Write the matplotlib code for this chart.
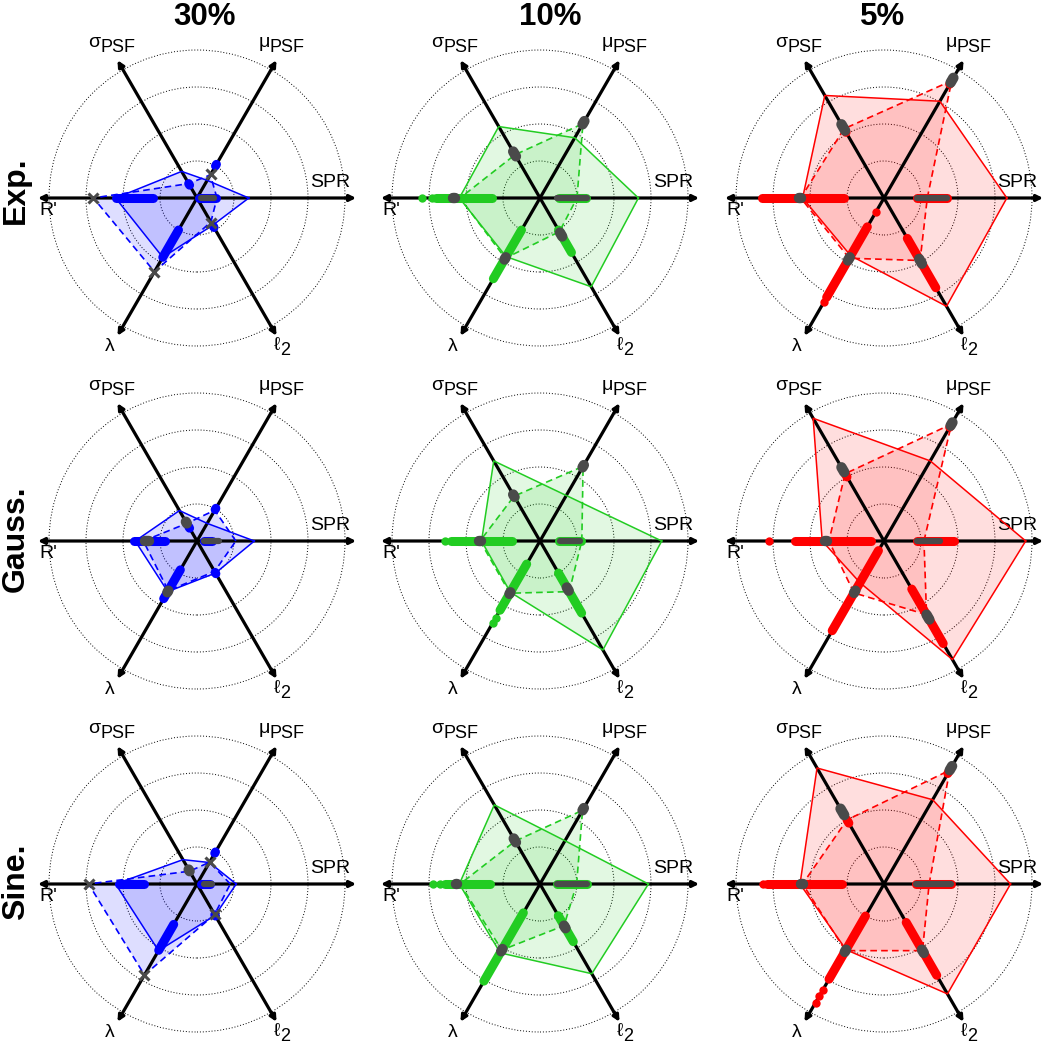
import numpy as np
import matplotlib.pyplot as plt
from matplotlib.patches import Circle, FancyArrowPatch
from matplotlib.transforms import offset_copy

plt.rcParams['font.family'] = ['Liberation Sans', 'DejaVu Sans']

noise_levels = ['30%', '10%', '5%']
psf_kinds = ['Exp.', 'Gauss.', 'Sine.']
axis_names = ['SPR', 'μ', 'σ', "R'", 'λ', 'ℓ']
axis_subs = ['', 'PSF', 'PSF', '', '', '2']
axis_angles = [0, 60, 120, 180, 240, 300]
level_colors = ['#0000ff', '#22cc22', '#ff0000']

# order of values on each polygon: SPR, muPSF, sigmaPSF, R', lambda, l2
exp_solid = [[1.40, 0.55, 0.83, 2.20, 1.85, 0.85],
             [2.66, 1.88, 2.23, 2.18, 1.83, 2.77],
             [3.32, 3.02, 3.20, 2.20, 1.80, 3.38]]
exp_dashed = [[0.54, 0.72, 0.45, 2.80, 2.30, 0.75],
              [1.00, 2.32, 1.35, 2.16, 1.88, 1.05],
              [1.17, 3.66, 2.16, 2.25, 1.88, 1.95]]
gauss_solid = [[1.55, 0.55, 0.95, 1.67, 1.58, 1.00],
               [3.29, 1.42, 2.50, 1.58, 1.60, 3.40],
               [3.83, 2.50, 3.83, 1.67, 1.30, 3.70]]
gauss_dashed = [[1.05, 0.96, 0.55, 1.45, 1.55, 0.95],
                [1.13, 2.33, 1.40, 1.62, 1.63, 1.58],
                [1.08, 3.65, 2.10, 1.49, 1.62, 2.30]]
sine_solid = [[1.06, 0.67, 0.76, 2.20, 2.08, 0.98],
              [2.93, 1.35, 2.47, 2.18, 2.15, 2.80],
              [3.42, 2.63, 3.62, 2.27, 2.05, 3.43]]
sine_dashed = [[0.90, 0.68, 0.40, 2.93, 2.84, 0.95],
               [0.99, 2.30, 1.34, 2.16, 2.06, 1.30],
               [1.22, 3.55, 2.00, 2.20, 2.08, 2.08]]

# spread (low, high) of the estimates along every axis
exp_spread = [[(0.05, 0.50), (1.00, 1.05), (0.40, 0.45), (1.20, 2.20), (1.00, 1.85), (0.88, 0.92)],
              [(0.50, 1.25), (2.30, 2.35), (1.35, 1.40), (1.30, 2.80), (1.00, 2.52), (1.00, 1.70)],
              [(0.90, 1.70), (3.55, 3.65), (2.05, 2.15), (1.08, 3.29), (0.90, 3.10), (1.26, 2.80)]]
gauss_spread = [[(0.20, 0.40), (0.98, 1.02), (0.40, 0.45), (0.86, 1.71), (0.90, 1.80), (0.98, 1.02)],
                [(0.50, 1.10), (2.30, 2.35), (1.35, 1.45), (0.77, 2.40), (0.72, 2.16), (1.00, 2.25)],
                [(0.90, 1.90), (3.55, 3.65), (2.00, 2.10), (0.36, 2.40), (0.30, 2.80), (1.50, 3.20)]]
sine_spread = [[(0.10, 0.35), (0.96, 1.00), (0.40, 0.45), (1.44, 2.12), (1.26, 2.07), (0.96, 1.00)],
               [(0.45, 1.26), (2.30, 2.35), (1.30, 1.40), (1.35, 2.57), (0.90, 3.03), (0.99, 1.80)],
               [(0.86, 1.80), (3.45, 3.55), (1.90, 2.00), (1.13, 3.15), (1.00, 2.97), (1.20, 2.85)]]

# isolated estimates (axis index, value)
exp_extra = [[], [(3, 3.20), (3, 2.93)], [(4, 0.45), (4, 3.24)]]
gauss_extra = [[], [(3, 2.57), (4, 2.40), (4, 2.56)], [(3, 3.10)]]
sine_extra = [[], [(3, 2.90), (3, 2.70)], [(3, 3.26), (4, 3.30), (4, 3.50), (4, 3.70)]]

# reference values (grey)
exp_truth = [[(0.10, 0.45), (0.75, 0.75), (0.42, 0.42), (2.80, 2.80), (2.30, 2.30), (0.78, 0.78)],
             [(0.45, 1.26), (2.30, 2.40), (1.30, 1.45), (2.30, 2.35), (1.85, 1.92), (1.08, 1.20)],
             [(0.90, 1.71), (3.60, 3.75), (2.10, 2.30), (2.25, 2.30), (1.85, 1.95), (1.90, 2.05)]]
gauss_truth = [[(0.20, 0.60), (0.96, 0.96), (0.55, 0.60), (1.30, 1.40), (1.55, 1.60), (0.95, 0.95)],
               [(0.54, 1.08), (2.30, 2.37), (1.38, 1.45), (1.60, 1.65), (1.60, 1.65), (1.45, 1.55)],
               [(0.90, 1.50), (3.60, 3.70), (2.15, 2.30), (1.55, 1.60), (1.55, 1.62), (2.30, 2.45)]]
sine_truth = [[(0.20, 0.40), (0.68, 0.68), (0.40, 0.45), (2.93, 2.93), (2.84, 2.84), (0.95, 0.95)],
              [(0.45, 1.26), (2.30, 2.37), (1.30, 1.42), (2.25, 2.28), (2.03, 2.10), (1.30, 1.38)],
              [(0.86, 1.80), (3.55, 3.68), (2.15, 2.35), (2.20, 2.25), (2.05, 2.12), (2.05, 2.15)]]

rows = [(exp_solid, exp_dashed, exp_spread, exp_extra, exp_truth),
        (gauss_solid, gauss_dashed, gauss_spread, gauss_extra, gauss_truth),
        (sine_solid, sine_dashed, sine_spread, sine_extra, sine_truth)]

W, H = 1050, 1049
col_x = [197, 540, 884]
row_y = [198, 541, 884]
unit = 37.0
half = 171.5
label_pos = [(3.6, 0.43), (2.28, 4.15), (-2.3, 4.15), (-4.02, -0.33), (-2.35, -4.02), (2.3, -4.02)]
grey = '#4a4a4a'

fig = plt.figure(figsize=(W / 100, H / 100), dpi=100)
renderer = fig.canvas.get_renderer()


def xy(r, k):
    a = np.deg2rad(axis_angles[k])
    return r * np.cos(a), r * np.sin(a)


def closed(vals):
    pts = [xy(r, k) for k, r in enumerate(vals)]
    pts.append(pts[0])
    return np.array(pts)


def axis_label(ax, x, y, name, sub):
    t1 = ax.text(x, y, name, fontsize=14, ha='left', va='baseline')
    w1 = t1.get_window_extent(renderer).width
    if not sub:
        t1.set_ha('center')
        t1.set_va('center')
        return
    t2 = ax.text(x, y, sub, fontsize=13, ha='left', va='baseline')
    w2 = t2.get_window_extent(renderer).width
    tot = w1 + w2
    t1.set_transform(offset_copy(ax.transData, fig=fig, x=-tot / 2, y=-3, units='dots'))
    t2.set_transform(offset_copy(ax.transData, fig=fig, x=w1 - tot / 2, y=-8, units='dots'))


def draw_panel(ax, solid, dashed, spread, extra, truth, color, crosses):
    for rad in [1, 2, 3, 4]:
        ax.add_patch(Circle((0, 0), rad, fill=False, ec='k', lw=0.7,
                            ls=(0, (1, 2)), zorder=1))
    ps = closed(solid)
    pd_ = closed(dashed)
    ax.fill(ps[:, 0], ps[:, 1], color=color, alpha=0.13, lw=0, zorder=2)
    ax.fill(pd_[:, 0], pd_[:, 1], color=color, alpha=0.13, lw=0, zorder=2)
    for k in range(3):
        x0, y0 = xy(-4.3, k)
        x1, y1 = xy(4.3, k)
        ax.add_patch(FancyArrowPatch((x0, y0), (x1, y1), arrowstyle='<|-|>',
                                     mutation_scale=9, lw=2.3, color='k',
                                     shrinkA=0, shrinkB=0, zorder=3))
    ax.plot(ps[:, 0], ps[:, 1], color=color, lw=1.1, zorder=4)
    ax.plot(pd_[:, 0], pd_[:, 1], color=color, lw=1.2, ls=(0, (4, 2.5)), zorder=4)
    for k, (lo, hi) in enumerate(spread):
        xa, ya = xy(lo, k)
        xb, yb = xy(hi, k)
        ax.plot([xa, xb], [ya, yb], color=color, lw=6.5, solid_capstyle='round', zorder=5)
    for k, r in extra:
        x, y = xy(r, k)
        ax.plot(x, y, 'o', color=color, ms=6, mew=0, zorder=5)
    for k, (lo, hi) in enumerate(truth):
        xa, ya = xy(lo, k)
        xb, yb = xy(hi, k)
        if crosses and lo == hi and k != 2:
            ax.plot(xa, ya, 'x', color=grey, ms=7, mew=2.2, zorder=6)
        else:
            w = 4.5 if k == 0 else 7.5
            ax.plot([xa, xb], [ya, yb], color=grey, lw=w, solid_capstyle='round', zorder=6)
    for k, (lx, ly) in enumerate(label_pos):
        axis_label(ax, lx, ly, axis_names[k], axis_subs[k])


for i, (solid, dashed, spread, extra, truth) in enumerate(rows):
    for j in range(3):
        ax = fig.add_axes([(col_x[j] - half) / W, 1 - (row_y[i] + half) / H,
                           2 * half / W, 2 * half / H])
        ax.set_xlim(-half / unit, half / unit)
        ax.set_ylim(-half / unit, half / unit)
        ax.set_aspect('equal')
        ax.axis('off')
        draw_panel(ax, solid[j], dashed[j], spread[j], extra[j], truth[j],
                   level_colors[j], crosses=(j == 0 and i != 1))

title_x = [205, 550, 883]
for j, t in enumerate(noise_levels):
    fig.text(title_x[j] / W, 1 - 17 / H, t, fontsize=22.5, fontweight='bold',
             ha='center', va='center')
label_y = [190, 539, 882]
for i, t in enumerate(psf_kinds):
    fig.text(16 / W, 1 - label_y[i] / H, t, fontsize=23, fontweight='bold',
             rotation=90, ha='center', va='center')

fig.savefig('out.png', dpi=100)
